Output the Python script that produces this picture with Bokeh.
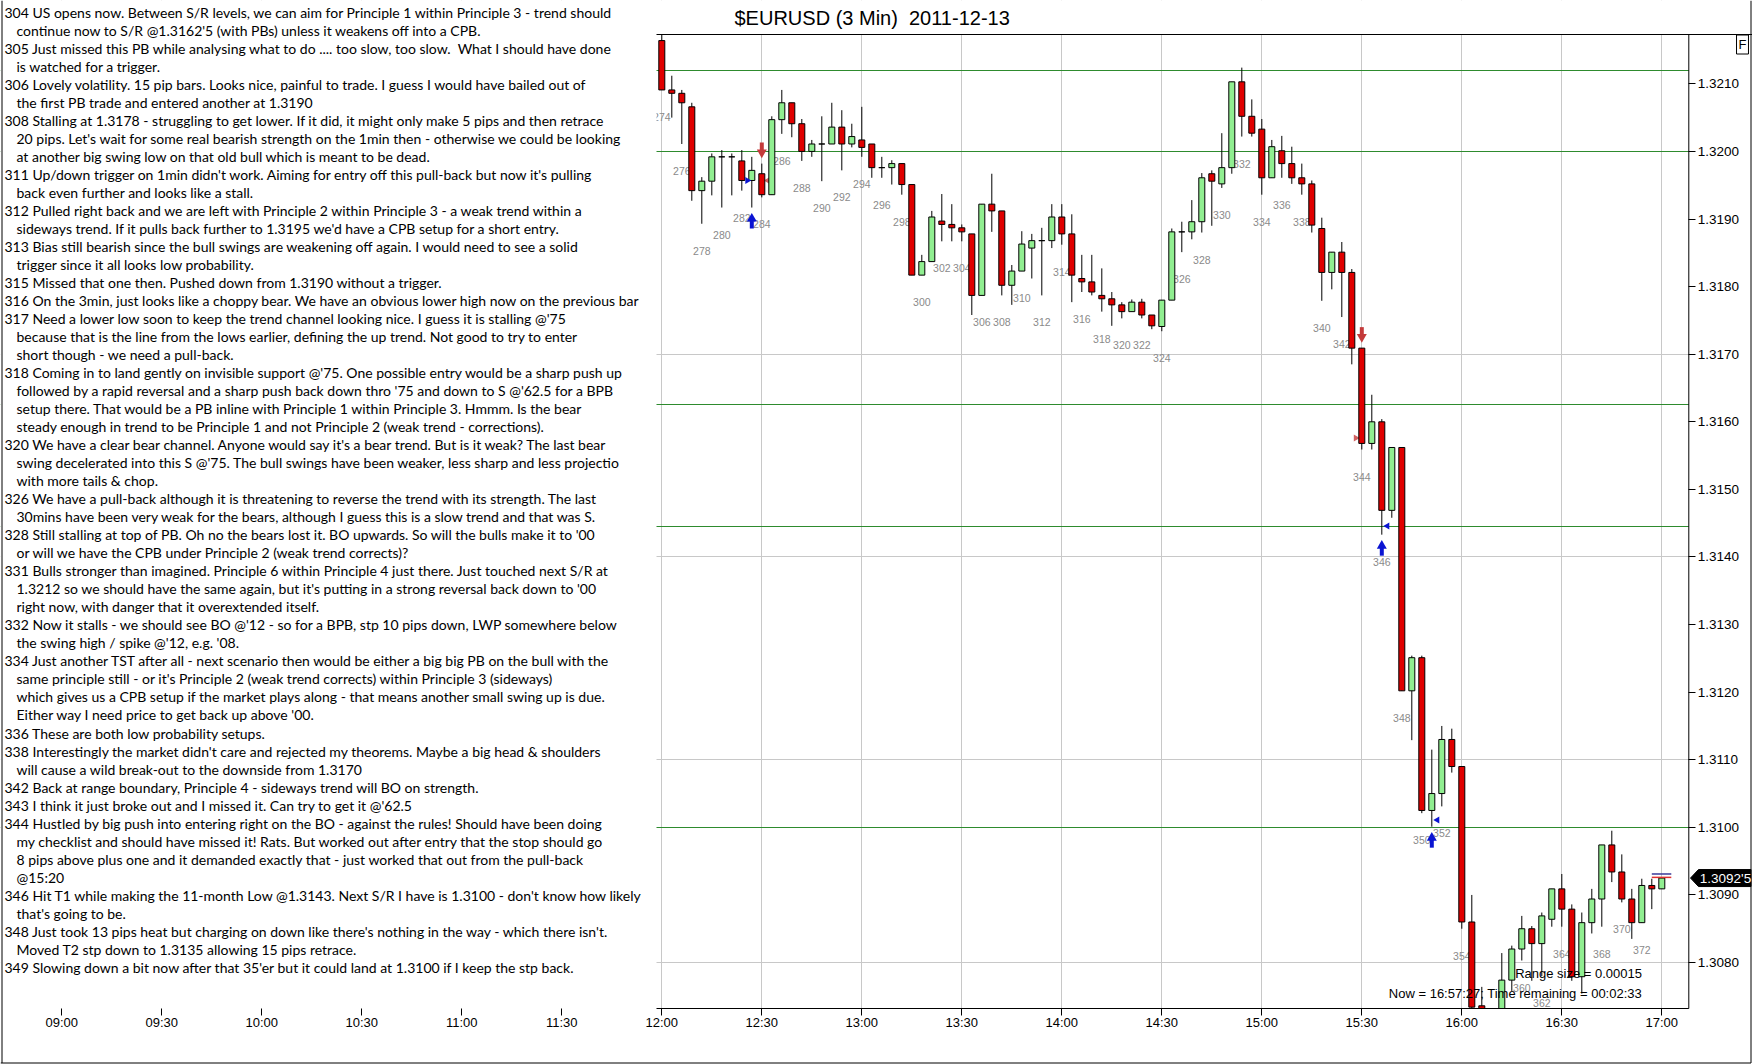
from bokeh.plotting import figure
from bokeh.models import Range1d, FixedTicker, NumeralTickFormatter, Label, ColumnDataSource
from bokeh.embed import file_html
from bokeh.resources import INLINE
from bokeh.core.properties import value

# ---------------- data ----------------
TITLE = "$EURUSD (3 Min) \u00a02011-12-13"

bar_no = list(range(274, 375))
opens = [1.32164, 1.32091, 1.32086, 1.32066, 1.31942, 1.31956, 1.31992, 1.31992, 1.31986, 1.31957,
         1.31967, 1.31936, 1.32047, 1.32072, 1.32041, 1.32000, 1.32011, 1.32011, 1.32036, 1.32011,
         1.32017, 1.32011, 1.31976, 1.31976, 1.31982, 1.31951, 1.31817, 1.31837, 1.31897, 1.31892,
         1.31887, 1.31878, 1.31787, 1.31922, 1.31912, 1.31802, 1.31823, 1.31857, 1.31868, 1.31868,
         1.31903, 1.31878, 1.31812, 1.31807, 1.31787, 1.31782, 1.31773, 1.31763, 1.31777, 1.31758,
         1.31741, 1.31780, 1.31881, 1.31881, 1.31896, 1.31967, 1.31952, 1.31976, 1.32103, 1.32052,
         1.32033, 1.31961, 1.32001, 1.31982, 1.31961, 1.31952, 1.31886, 1.31821, 1.31851, 1.31821,
         1.31709, 1.31568, 1.31600, 1.31469, 1.31562, 1.31202, 1.31251, 1.31025, 1.31050, 1.31130,
         1.31090, 1.30860, 1.30736, 1.30726, 1.30716, 1.30774, 1.30820, 1.30850, 1.30828, 1.30864,
         1.30909, 1.30879, 1.30779, 1.30859, 1.30894, 1.30974, 1.30934, 1.30894, 1.30859, 1.30914,
         1.30909]
highs = [1.32175, 1.32112, 1.32091, 1.32072, 1.31962, 1.31997, 1.32002, 1.31997, 1.32002, 1.31992,
         1.31982, 1.32052, 1.32091, 1.32072, 1.32048, 1.32017, 1.32052, 1.32072, 1.32061, 1.32041,
         1.32066, 1.32011, 1.31992, 1.31987, 1.31982, 1.31951, 1.31847, 1.31912, 1.31937, 1.31922,
         1.31892, 1.31878, 1.31922, 1.31967, 1.31912, 1.31832, 1.31882, 1.31878, 1.31887, 1.31922,
         1.31922, 1.31907, 1.31847, 1.31847, 1.31827, 1.31792, 1.31777, 1.31781, 1.31782, 1.31758,
         1.31780, 1.31886, 1.31896, 1.31928, 1.31968, 1.31972, 1.32027, 1.32103, 1.32124, 1.32077,
         1.32048, 1.32017, 1.32023, 1.32007, 1.31982, 1.31957, 1.31902, 1.31851, 1.31866, 1.31826,
         1.31709, 1.31640, 1.31604, 1.31562, 1.31562, 1.31254, 1.31254, 1.31115, 1.31150, 1.31146,
         1.31090, 1.30900, 1.30764, 1.30729, 1.30814, 1.30825, 1.30869, 1.30854, 1.30874, 1.30909,
         1.30931, 1.30886, 1.30874, 1.30909, 1.30974, 1.30995, 1.30960, 1.30909, 1.30924, 1.30924,
         1.30925]
lows = [1.32091, 1.32050, 1.32011, 1.31927, 1.31893, 1.31935, 1.31917, 1.31935, 1.31942, 1.31917,
        1.31932, 1.31936, 1.32026, 1.32021, 1.31986, 1.31992, 1.31956, 1.32011, 1.31972, 1.32006,
        1.31992, 1.31961, 1.31961, 1.31951, 1.31936, 1.31817, 1.31817, 1.31837, 1.31867, 1.31867,
        1.31867, 1.31758, 1.31787, 1.31881, 1.31787, 1.31773, 1.31823, 1.31812, 1.31787, 1.31857,
        1.31862, 1.31777, 1.31792, 1.31787, 1.31763, 1.31742, 1.31753, 1.31763, 1.31753, 1.31737,
        1.31734, 1.31780, 1.31851, 1.31870, 1.31880, 1.31890, 1.31946, 1.31967, 1.32022, 1.32022,
        1.31936, 1.31961, 1.31961, 1.31952, 1.31936, 1.31880, 1.31779, 1.31796, 1.31755, 1.31685,
        1.31559, 1.31559, 1.31433, 1.31458, 1.31202, 1.31129, 1.31021, 1.31001, 1.31031, 1.31081,
        1.30850, 1.30728, 1.30720, 1.30705, 1.30712, 1.30758, 1.30803, 1.30773, 1.30780, 1.30853,
        1.30853, 1.30773, 1.30754, 1.30843, 1.30853, 1.30919, 1.30889, 1.30835, 1.30859, 1.30879,
        1.30909]
closes = [1.32091, 1.32086, 1.32072, 1.31942, 1.31956, 1.31992, 1.31992, 1.31992, 1.31957, 1.31972,
          1.31936, 1.32047, 1.32072, 1.32041, 1.32000, 1.32011, 1.32011, 1.32036, 1.32011, 1.32022,
          1.32006, 1.31976, 1.31976, 1.31982, 1.31951, 1.31817, 1.31837, 1.31903, 1.31892, 1.31887,
          1.31881, 1.31787, 1.31922, 1.31912, 1.31802, 1.31823, 1.31863, 1.31868, 1.31868, 1.31903,
          1.31878, 1.31817, 1.31807, 1.31792, 1.31782, 1.31773, 1.31763, 1.31777, 1.31758, 1.31742,
          1.31780, 1.31881, 1.31881, 1.31896, 1.31961, 1.31956, 1.31976, 1.32103, 1.32052, 1.32027,
          1.31961, 1.32007, 1.31982, 1.31961, 1.31952, 1.31891, 1.31821, 1.31851, 1.31821, 1.31709,
          1.31568, 1.31600, 1.31469, 1.31562, 1.31202, 1.31251, 1.31025, 1.31050, 1.31130, 1.31090,
          1.30860, 1.30734, 1.30726, 1.30715, 1.30774, 1.30820, 1.30850, 1.30828, 1.30869, 1.30909,
          1.30879, 1.30779, 1.30859, 1.30894, 1.30974, 1.30934, 1.30894, 1.30859, 1.30914, 1.30909,
          1.30925]

time_labels = ["09:00", "09:30", "10:00", "10:30", "11:00", "11:30", "12:00", "12:30", "13:00",
               "13:30", "14:00", "14:30", "15:00", "15:30", "16:00", "16:30", "17:00"]
price_ticks = [1.3080, 1.3090, 1.3100, 1.3110, 1.3120, 1.3130, 1.3140, 1.3150, 1.3160, 1.3170,
               1.3180, 1.3190, 1.3200, 1.3210]
grid_levels = [1.3080, 1.3110, 1.3140, 1.3170, 1.3200]
sr_levels = [1.3212, 1.3200, 1.31625, 1.31445, 1.3100]

up_arrow_bars = [283, 346, 351]
down_arrow_bars = [284, 344]
entry_right_bars = [283]          # blue marker pointing right, left of the bar
entry_right_prices = [1.31957]
entry_left_bars = [346, 351]      # blue markers pointing left, right of the bar
entry_left_prices = [1.31446, 1.31011]
exit_left_bars = [284]            # red marks
exit_left_prices = [1.31957]
exit_right_bars = [344]
exit_right_prices = [1.31576]
ask_price = 1.30931
bid_price = 1.30926
last_price_text = "1.3092'5"
range_text = "Range size = 0.00015"
now_text = "Now = 16:57:27; Time remaining = 00:02:33"

notes = [
    ["304 US opens now. Between S/R levels, we can aim for Principle 1 within Principle 3 - trend should",
     "continue now to S/R @1.3162'5 (with PBs) unless it weakens off into a CPB."],
    ["305 Just missed this PB while analysing what to do .... too slow, too slow. \u00a0What I should have done",
     "is watched for a trigger."],
    ["306 Lovely volatility. 15 pip bars. Looks nice, painful to trade. I guess I would have bailed out of",
     "the first PB trade and entered another at 1.3190"],
    ["308 Stalling at 1.3178 - struggling to get lower. If it did, it might only make 5 pips and then retrace",
     "20 pips. Let's wait for some real bearish strength on the 1min then - otherwise we could be looking",
     "at another big swing low on that old bull which is meant to be dead."],
    ["311 Up/down trigger on 1min didn't work. Aiming for entry off this pull-back but now it's pulling",
     "back even further and looks like a stall."],
    ["312 Pulled right back and we are left with Principle 2 within Principle 3 - a weak trend within a",
     "sideways trend. If it pulls back further to 1.3195 we'd have a CPB setup for a short entry."],
    ["313 Bias still bearish since the bull swings are weakening off again. I would need to see a solid",
     "trigger since it all looks low probability."],
    ["315 Missed that one then. Pushed down from 1.3190 without a trigger."],
    ["316 On the 3min, just looks like a choppy bear. We have an obvious lower high now on the previous bar"],
    ["317 Need a lower low soon to keep the trend channel looking nice. I guess it is stalling @'75",
     "because that is the line from the lows earlier, defining the up trend. Not good to try to enter",
     "short though - we need a pull-back."],
    ["318 Coming in to land gently on invisible support @'75. One possible entry would be a sharp push up",
     "followed by a rapid reversal and a sharp push back down thro '75 and down to S @'62.5 for a BPB",
     "setup there. That would be a PB inline with Principle 1 within Principle 3. Hmmm. Is the bear",
     "steady enough in trend to be Principle 1 and not Principle 2 (weak trend - corrections)."],
    ["320 We have a clear bear channel. Anyone would say it's a bear trend. But is it weak? The last bear",
     "swing decelerated into this S @'75. The bull swings have been weaker, less sharp and less projectio",
     "with more tails & chop."],
    ["326 We have a pull-back although it is threatening to reverse the trend with its strength. The last",
     "30mins have been very weak for the bears, although I guess this is a slow trend and that was S."],
    ["328 Still stalling at top of PB. Oh no the bears lost it. BO upwards. So will the bulls make it to '00",
     "or will we have the CPB under Principle 2 (weak trend corrects)?"],
    ["331 Bulls stronger than imagined. Principle 6 within Principle 4 just there. Just touched next S/R at",
     "1.3212 so we should have the same again, but it's putting in a strong reversal back down to '00",
     "right now, with danger that it overextended itself."],
    ["332 Now it stalls - we should see BO @'12 - so for a BPB, stp 10 pips down, LWP somewhere below",
     "the swing high / spike @'12, e.g. '08."],
    ["334 Just another TST after all - next scenario then would be either a big big PB on the bull with the",
     "same principle still - or it's Principle 2 (weak trend corrects) within Principle 3 (sideways)",
     "which gives us a CPB setup if the market plays along - that means another small swing up is due.",
     "Either way I need price to get back up above '00."],
    ["336 These are both low probability setups."],
    ["338 Interestingly the market didn't care and rejected my theorems. Maybe a big head & shoulders",
     "will cause a wild break-out to the downside from 1.3170"],
    ["342 Back at range boundary, Principle 4 - sideways trend will BO on strength."],
    ["343 I think it just broke out and I missed it. Can try to get it @'62.5"],
    ["344 Hustled by big push into entering right on the BO - against the rules! Should have been doing",
     "my checklist and should have missed it! Rats. But worked out after entry that the stop should go",
     "8 pips above plus one and it demanded exactly that - just worked that out from the pull-back",
     "@15:20"],
    ["346 Hit T1 while making the 11-month Low @1.3143. Next S/R I have is 1.3100 - don't know how likely",
     "that's going to be."],
    ["348 Just took 13 pips heat but charging on down like there's nothing in the way - which there isn't.",
     "Moved T2 stp down to 1.3135 allowing 15 pips retrace."],
    ["349 Slowing down a bit now after that 35'er but it could land at 1.3100 if I keep the stp back."],
]

# ---------------- layout constants (pixels) ----------------
W, H = 1752, 1064
FRAME_W, FRAME_H = W, H                   # frame fills the page; axes are fixed inside it
BAR_PX = 10.0                             # one 3-min bar = 10 px
X0_PX = 661.3                             # screen x of first bar (12:00)
AXIS_PX = 1688.3                          # screen x of the price axis
RIGHT_EDGE_PX = 1750.5                    # outer border, right
BOTTOM_EDGE_PX = 1062.5                   # outer border, bottom
TOP_PX = 34.0                             # screen y of the chart's top border
CHART_BOTTOM_PX = 1008.0                  # screen y of the time axis
PX = (1.32173 - 1.30732) / (CHART_BOTTOM_PX - TOP_PX)   # price per screen pixel
X_START = bar_no[0] - X0_PX / BAR_PX
X_END = X_START + FRAME_W / BAR_PX
AXIS_X = X_START + AXIS_PX / BAR_PX
BOX_RIGHT = X_START + 656.0 / BAR_PX      # right edge of the notes panel
Y_START = 1.30732                         # price at the time axis
Y_TOP = Y_START + (CHART_BOTTOM_PX - TOP_PX) * PX
Y_END = Y_START + CHART_BOTTOM_PX * PX
Y_BOTTOM = Y_START - (FRAME_H - CHART_BOTTOM_PX) * PX
Y_EDGE = Y_START - (BOTTOM_EDGE_PX - CHART_BOTTOM_PX) * PX

RED = "#e00000"
GREEN = "#90ee90"
SR_GREEN = "#2e8b2e"
GRID = "#c8c8c8"
BLUE = "#0a14d2"
ARROW_RED = "#c43a3a"
AX_FONT = "Liberation Sans"

# ---------------- figure ----------------
p = figure(width=W, height=H, title=None,
           x_range=Range1d(X_START, X_END), y_range=Range1d(Y_BOTTOM, Y_END),
           y_axis_location="right", output_backend="svg", toolbar_location=None,
           min_border_left=0, min_border_right=0, min_border_top=0, min_border_bottom=0,
           outline_line_color=None, background_fill_color="white", border_fill_color="white")

def minutes(t):
    hh, mm = t.split(":")
    return int(hh) * 60 + int(mm)

tick_pos = [bar_no[0] + (minutes(t) - 12 * 60) / 3.0 for t in time_labels]
xt = FixedTicker(ticks=tick_pos)
p.xaxis.ticker = xt
p.xaxis.major_label_overrides = {tp: t for tp, t in zip(tick_pos, time_labels)}
p.xaxis.fixed_location = Y_START
p.xgrid.ticker = xt
p.xgrid.grid_line_color = GRID

p.yaxis.ticker = FixedTicker(ticks=price_ticks)
p.yaxis.formatter = NumeralTickFormatter(format="0.0000")
p.yaxis.fixed_location = AXIS_X
p.ygrid.ticker = FixedTicker(ticks=grid_levels)
p.ygrid.grid_line_color = GRID

for ax in (p.xaxis[0], p.yaxis[0]):
    ax.major_tick_out = 7
    ax.major_tick_in = 0
    ax.minor_tick_line_color = None
    ax.major_label_text_font = AX_FONT
    ax.major_label_text_color = "black"
    ax.major_tick_line_color = "black"
    ax.axis_line_color = None
p.xaxis.major_label_text_font_size = "13px"
p.yaxis.major_label_text_font_size = "13.5px"
p.xaxis.major_label_standoff = -1
p.yaxis.major_label_standoff = 2

# S/R levels
p.hspan(y=sr_levels, line_color=SR_GREEN, line_width=1)

# bar number labels (even, completed bars)
lab_x = [b for b in bar_no[:-1] if b % 2 == 0]
lab_y = [lows[i] for i, b in enumerate(bar_no[:-1]) if b % 2 == 0]
p.text(x=lab_x, y=lab_y, text=[str(b) for b in lab_x], y_offset=27,
       text_font=value("Liberation Sans"), text_font_size="10.5px", text_color="#8a8a8a",
       text_align="center", text_baseline="middle")

def tri(xs_tip, ys, direction, length_px, height_px):
    """triangle polygons with the tip at (x, y); direction +1 points right, -1 points left"""
    px_x, px_y = [], []
    for x, y in zip(xs_tip, ys):
        back = x - direction * length_px / BAR_PX
        px_x.append([x, back, back])
        px_y.append([y, y + height_px / 2 * PX, y - height_px / 2 * PX])
    return px_x, px_y

# red exit marks (partly behind candles)
ex, ey = tri([b + 0.2 for b in exit_left_bars], exit_left_prices, -1, 6, 7)
p.patches(xs=ex, ys=ey, fill_color=ARROW_RED, line_color=None, fill_alpha=0.8)
ex, ey = tri([b - 0.2 for b in exit_right_bars], exit_right_prices, 1, 6, 7)
p.patches(xs=ex, ys=ey, fill_color=ARROW_RED, line_color=None, fill_alpha=0.8)

# candles
src = ColumnDataSource(dict(
    x=bar_no, o=opens, h=highs, l=lows, c=closes,
    top=[max(o, c) for o, c in zip(opens, closes)],
    bottom=[min(o, c) for o, c in zip(opens, closes)],
    color=[RED if c < o else GREEN for o, c in zip(opens, closes)]))
p.segment(x0="x", y0="h", x1="x", y1="l", source=src, line_color="black", line_width=1)
p.vbar(x="x", width=0.6, top="top", bottom="bottom", fill_color="color",
       line_color="black", line_width=1, source=src)

# arrows
idx = {b: i for i, b in enumerate(bar_no)}
ua_low = [lows[idx[b]] for b in up_arrow_bars]
p.vbar(x=up_arrow_bars, width=0.4, top=[l - 13.0 * PX for l in ua_low],
       bottom=[l - 21.0 * PX for l in ua_low], fill_color=BLUE, line_color=None)
p.scatter(x=up_arrow_bars, y=[l - 11.2 * PX for l in ua_low], marker="triangle", size=10,
          fill_color=BLUE, line_color=None)
da_high = [highs[idx[b]] for b in down_arrow_bars]
p.vbar(x=down_arrow_bars, width=0.4, bottom=[h + 13.0 * PX for h in da_high],
       top=[h + 21.0 * PX for h in da_high], fill_color=ARROW_RED, line_color=None)
p.scatter(x=down_arrow_bars, y=[h + 11.2 * PX for h in da_high], marker="inverted_triangle", size=10,
          fill_color=ARROW_RED, line_color=None)

# blue entry markers
ex, ey = tri([b - 0.05 for b in entry_right_bars], entry_right_prices, 1, 6, 7)
p.patches(xs=ex, ys=ey, fill_color=BLUE, line_color=None)
ex, ey = tri([b + 0.15 for b in entry_left_bars], entry_left_prices, -1, 6, 7)
p.patches(xs=ex, ys=ey, fill_color=BLUE, line_color=None)

# bid / ask ticks at the last bar
p.segment(x0=[bar_no[-1] - 1.0], y0=[ask_price], x1=[bar_no[-1] + 0.95], y1=[ask_price],
          line_color="#3a3a9a", line_width=1.5)
p.segment(x0=[bar_no[-1] - 1.0], y0=[bid_price], x1=[bar_no[-1] + 0.95], y1=[bid_price],
          line_color="#e03030", line_width=1.5)

# white covers: notes panel, strip above the chart, strip right of the price axis, strip below
p.quad(left=[X_START, BOX_RIGHT, AXIS_X, X_START], right=[BOX_RIGHT, X_END, X_END, X_END],
       bottom=[Y_BOTTOM, Y_TOP, Y_START, Y_BOTTOM], top=[Y_END, Y_END, Y_TOP, Y_START],
       fill_color="white", line_color=None)

# borders: chart top, time axis line, price axis line, outer left / right / bottom edges
p.segment(x0=[BOX_RIGHT], y0=[Y_TOP], x1=[X_END], y1=[Y_TOP], line_color="black", line_width=1)
p.segment(x0=[BOX_RIGHT], y0=[Y_START], x1=[AXIS_X], y1=[Y_START], line_color="black", line_width=1)
p.segment(x0=[AXIS_X], y0=[Y_START], x1=[AXIS_X], y1=[Y_TOP], line_color="black", line_width=1)
edge_x = [X_START + 0.15, X_START + RIGHT_EDGE_PX / BAR_PX]
p.segment(x0=edge_x, y0=[Y_EDGE, Y_EDGE], x1=edge_x, y1=[Y_END, Y_END], line_color="black", line_width=1)
p.segment(x0=[X_START], y0=[Y_EDGE], x1=[edge_x[1]], y1=[Y_EDGE], line_color="black", line_width=1)

# last price marker (arrow box on the price axis)
lp = closes[-1]
p.patch(x=[AXIS_X + 0.17, AXIS_X + 0.97, edge_x[1], edge_x[1], AXIS_X + 0.97],
        y=[lp, lp + 8.5 * PX, lp + 8.5 * PX, lp - 8.5 * PX, lp - 8.5 * PX],
        fill_color="black", line_color="black")
p.add_layout(Label(x=AXIS_X + 1.1, y=lp, text=last_price_text, text_font=AX_FONT,
                   text_font_size="13.5px", text_color="white", text_baseline="middle",
                   text_align="left"))

# notes text
line_i = 0
for note in notes:
    for j, t in enumerate(note):
        p.add_layout(Label(x=4 if j == 0 else 16, y=FRAME_H - 11.7 - 18.02 * line_i,
                           x_units="screen", y_units="screen", text=t,
                           text_font="Lato", text_font_size="14px", text_color="black",
                           text_baseline="middle", text_align="left"))
        line_i += 1

# title
p.add_layout(Label(x=734, y=FRAME_H - 17, x_units="screen", y_units="screen",
                   text=TITLE, text_font="Liberation Sans", text_font_size="20px",
                   text_color="black", text_baseline="middle", text_align="left"))

# info texts
p.add_layout(Label(x=1641.5, y=FRAME_H - 973.3, x_units="screen", y_units="screen", text=range_text,
                   text_font="Liberation Sans", text_font_size="13px", text_color="black",
                   text_baseline="middle", text_align="right"))
p.add_layout(Label(x=1641.5, y=FRAME_H - 993.3, x_units="screen", y_units="screen", text=now_text,
                   text_font="Liberation Sans", text_font_size="13px", text_color="black",
                   text_baseline="middle", text_align="right"))

# "F" box
p.add_layout(Label(x=1742.0, y=FRAME_H - 44, x_units="screen", y_units="screen", text="F",
                   text_font="Liberation Sans", text_font_size="13px", text_color="black",
                   text_baseline="middle", text_align="center", border_line_color="black",
                   background_fill_color="white", padding=2))

open("out.html", "w").write(file_html(p, INLINE))
